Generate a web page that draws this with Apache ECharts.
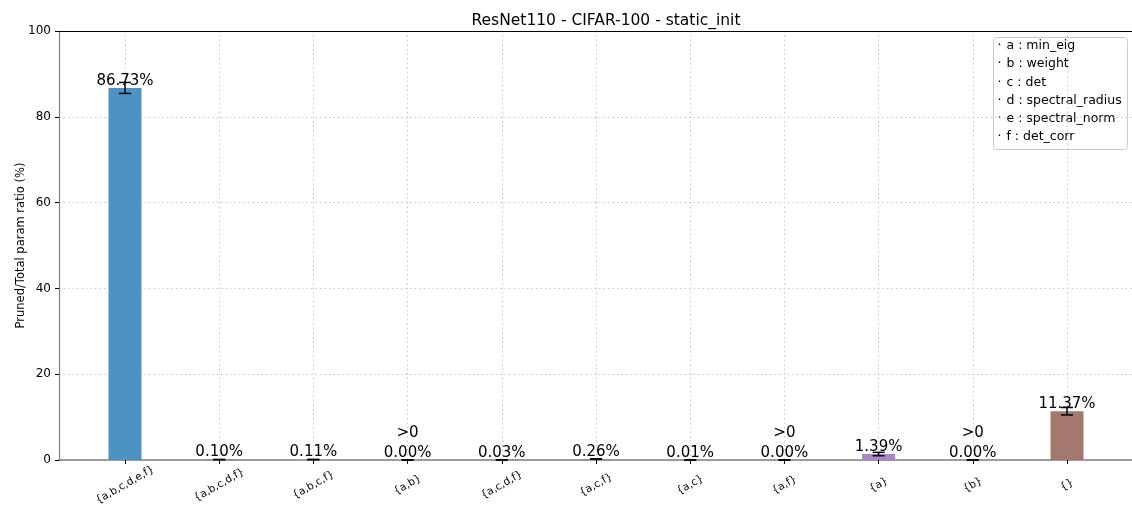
<!DOCTYPE html>
<html>
<head>
<meta charset="utf-8">
<script src="https://cdn.jsdelivr.net/npm/echarts@6/dist/echarts.min.js"></script>
<style>
  html, body { margin: 0; padding: 0; background: #fff; }
  #chart { width: 1132px; height: 514px; }
</style>
</head>
<body>
<div id="chart"></div>
<script>
// Subsets of pruning criteria that agree on a parameter
const categories = ['{a,b,c,d,e,f}', '{a,b,c,d,f}', '{a,b,c,f}', '{a,b}', '{a,c,d,f}', '{a,c,f}', '{a,c}', '{a,f}', '{a}', '{b}', '{}'];
// Mean pruned / total parameter ratio (%)
const ratios = [86.73, 0.10, 0.11, 0.001, 0.03, 0.26, 0.01, 0.001, 1.39, 0.001, 11.37];
// Standard deviation across runs (%)
const errors = [1.28, 0, 0, 0, 0, 0, 0, 0, 0.39, 0, 0.87];
const barColors = ['#4c92c3', '#4c92c3', '#ff993e', '#ff993e', '#56b356', '#56b356', '#de5253', '#de5253', '#a985ca', '#a985ca', '#a3786f'];
const yTicks = [0, 20, 40, 60, 80, 100];
const legendKeys = ['a', 'b', 'c', 'd', 'e', 'f'];
const legendNames = ['min_eig', 'weight', 'det', 'spectral_radius', 'spectral_norm', 'det_corr'];

const FONT = 'DejaVu Sans';
const chart = echarts.init(document.getElementById('chart'));

const barData = ratios.map((v, i) => ({ value: v, itemStyle: { color: barColors[i] } }));
const errData = ratios.map((v, i) => [i, v - errors[i], v + errors[i]]);

function fmtLabel(p) {
  const v = p.value;
  const s = v.toFixed(2) + '%';
  return (v > 0 && v < 0.005) ? '>0\n' + s : s;
}

// Criteria key box in the upper right corner
const legendFont = '12.5px "' + FONT + '"';
const legendChildren = [
  { type: 'rect', shape: { x: 0, y: 0, width: 134, height: 112, r: 3 },
    style: { fill: '#fff', stroke: '#cccccc', lineWidth: 1 } }
];
legendKeys.forEach((k, i) => {
  legendChildren.push({ type: 'text', x: 4, y: 2 + i * 18.2,
    style: { text: '·', font: legendFont, fill: '#000' } });
  legendChildren.push({ type: 'text', x: 13, y: 2 + i * 18.2,
    style: { text: k + ' : ' + legendNames[i], font: legendFont, fill: '#000' } });
});

chart.setOption({
  animation: false,
  backgroundColor: '#fff',
  textStyle: { fontFamily: FONT },
  title: {
    text: 'ResNet110 - CIFAR-100 - static_init',
    left: 601,
    top: 8,
    textAlign: 'center',
    textStyle: { fontFamily: FONT, fontSize: 15.5, fontWeight: 'normal', color: '#000' }
  },
  grid: [
    { left: 59, right: 0, top: 31, bottom: 54, outerBoundsMode: 'none', containLabel: false },
    { left: 125, right: 65, top: 31, bottom: 54, outerBoundsMode: 'none', containLabel: false }
  ],
  xAxis: [
    { gridIndex: 0, type: 'value', min: 0, max: 1, position: 'bottom',
      axisLine: { show: true, lineStyle: { color: '#7f7f7f', width: 1.5 } },
      axisTick: { show: false }, axisLabel: { show: false }, splitLine: { show: false } },
    { gridIndex: 0, type: 'value', min: 0, max: 1, position: 'top',
      axisLine: { show: true, lineStyle: { color: '#000', width: 1.2 } },
      axisTick: { show: false }, axisLabel: { show: false }, splitLine: { show: false } },
    { gridIndex: 1, type: 'category', data: categories, boundaryGap: false,
      axisLine: { show: false },
      axisTick: { show: true, length: 4, lineStyle: { color: '#000' } },
      axisLabel: { rotate: 30, fontSize: 10.5, fontFamily: FONT, color: '#000',
        align: 'center', verticalAlign: 'middle', margin: 25 },
      splitLine: { show: true, lineStyle: { color: '#c8c8c8', type: [1.5, 3], width: 1 } } }
  ],
  yAxis: [
    { gridIndex: 0, type: 'value', min: 0, max: 100, interval: 20,
      name: 'Pruned/Total param ratio (%)', nameLocation: 'middle', nameGap: 32,
      nameMoveOverlap: false,
      nameTextStyle: { fontFamily: FONT, fontSize: 11.5, color: '#000' },
      axisLine: { show: true, lineStyle: { color: '#7f7f7f', width: 1.2 } },
      axisTick: { show: true, length: 4, lineStyle: { color: '#000' } },
      axisLabel: { fontSize: 12, fontFamily: FONT, color: '#000', margin: 8,
        formatter: v => yTicks.includes(v) ? String(v) : '' },
      splitLine: { show: true, lineStyle: { color: '#c8c8c8', type: [1.5, 3], width: 1 } } },
    { gridIndex: 1, type: 'value', min: 0, max: 100, show: false, splitLine: { show: false } }
  ],
  series: [
    {
      type: 'bar', xAxisIndex: 2, yAxisIndex: 1, data: barData, barWidth: 33, clip: false,
      label: { show: true, position: 'top', distance: -3, formatter: fmtLabel,
        fontFamily: FONT, fontSize: 15, color: '#000', lineHeight: 20 },
      z: 2
    },
    {
      type: 'custom', xAxisIndex: 2, yAxisIndex: 1, data: errData, clip: false, z: 3,
      renderItem: function (params, api) {
        const x = api.value(0);
        const lo = api.coord([x, api.value(1)]);
        const hi = api.coord([x, api.value(2)]);
        const hw = 6;
        const st = { stroke: '#000', lineWidth: 1.5 };
        return { type: 'group', children: [
          { type: 'line', shape: { x1: lo[0], y1: lo[1], x2: hi[0], y2: hi[1] }, style: st },
          { type: 'line', shape: { x1: lo[0] - hw, y1: lo[1], x2: lo[0] + hw, y2: lo[1] }, style: st },
          { type: 'line', shape: { x1: hi[0] - hw, y1: hi[1], x2: hi[0] + hw, y2: hi[1] }, style: st }
        ] };
      }
    }
  ],
  graphic: [
    { type: 'group', left: 993, top: 37, z: 10, children: legendChildren }
  ]
});
</script>
</body>
</html>
